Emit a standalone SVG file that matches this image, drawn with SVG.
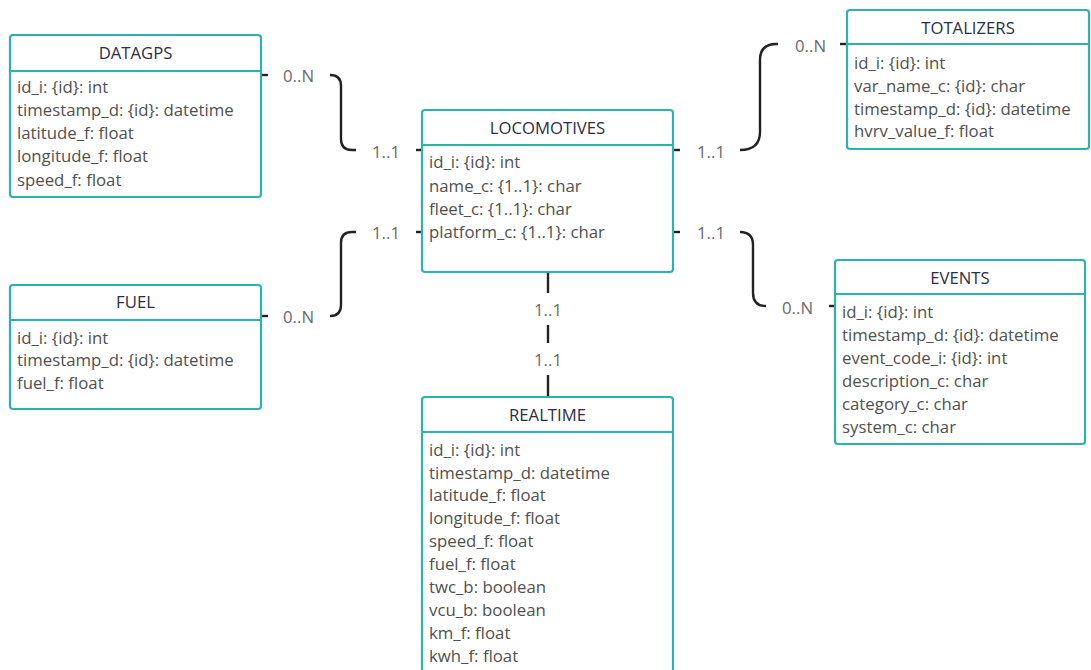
<svg xmlns="http://www.w3.org/2000/svg" width="1091" height="670" viewBox="0 0 1091 670">
<style>
.box{fill:#fff;stroke:#2bb3ad;stroke-width:2.2}
.div{stroke:#2bb3ad;stroke-width:2.2}
.title{font-family:"Open Sans","Noto Sans",sans-serif;font-size:16.7px;fill:#2b2d45;text-anchor:middle}
.f{font-family:"Open Sans","Noto Sans",sans-serif;font-size:16.8px;fill:#505050}
.lbl{font-family:"Open Sans","Noto Sans",sans-serif;font-size:16.8px;fill:#6a6a6a}
.c{fill:none;stroke:#222;stroke-width:2.4;stroke-linecap:butt}
</style>
<rect width="1091" height="670" fill="#fff"/>
<g id="connectors">
<path class="c" d="M261,75 H268"/>
<path class="c" d="M330,75 Q341,75 341,86 V139 Q341,150 352,150 H356"/>
<path class="c" d="M416,150 H422"/>
<path class="c" d="M261,316 H268"/>
<path class="c" d="M330,316 Q341,316 341,305 V243 Q341,232 352,232 H356"/>
<path class="c" d="M416,232 H422"/>
<path class="c" d="M673,150 H680"/>
<path class="c" d="M740,150 Q760,150 760,132 V60 Q760,44 776,44 H778"/>
<path class="c" d="M840,44 H847"/>
<path class="c" d="M673,232 H680"/>
<path class="c" d="M740,232 Q753,232 753,245 V293 Q753,306 766,306"/>
<path class="c" d="M829,306 H835"/>
<path class="c" d="M548,272 V293 M548,325 V343 M548,375 V397"/>
<text class="lbl" x="283" y="82">0..N</text>
<text class="lbl" x="372" y="158">1..1</text>
<text class="lbl" x="372" y="239">1..1</text>
<text class="lbl" x="283" y="323">0..N</text>
<text class="lbl" x="697" y="158">1..1</text>
<text class="lbl" x="795" y="52">0..N</text>
<text class="lbl" x="697" y="239">1..1</text>
<text class="lbl" x="782" y="314">0..N</text>
<text class="lbl" x="548" y="316" text-anchor="middle">1..1</text>
<text class="lbl" x="548" y="366" text-anchor="middle">1..1</text>
</g>
<g id="datagps">
<rect class="box" x="10" y="35" width="251" height="162" rx="3"/>
<line class="div" x1="10" y1="71" x2="261" y2="71"/>
<text class="title" x="135.5" y="59">DATAGPS</text>
<text class="f" x="17" y="93">id_i: {id}: int</text>
<text class="f" x="17" y="116">timestamp_d: {id}: datetime</text>
<text class="f" x="17" y="139">latitude_f: float</text>
<text class="f" x="17" y="162">longitude_f: float</text>
<text class="f" x="17" y="186">speed_f: float</text>
</g>
<g id="fuel">
<rect class="box" x="10" y="285" width="251" height="124" rx="3"/>
<line class="div" x1="10" y1="320" x2="261" y2="320"/>
<text class="title" x="135.5" y="308">FUEL</text>
<text class="f" x="17" y="344">id_i: {id}: int</text>
<text class="f" x="17" y="366">timestamp_d: {id}: datetime</text>
<text class="f" x="17" y="389">fuel_f: float</text>
</g>
<g id="locomotives">
<rect class="box" x="422" y="110" width="251" height="162" rx="3"/>
<line class="div" x1="422" y1="145" x2="673" y2="145"/>
<text class="title" x="547.5" y="134">LOCOMOTIVES</text>
<text class="f" x="429" y="168">id_i: {id}: int</text>
<text class="f" x="429" y="192">name_c: {1..1}: char</text>
<text class="f" x="429" y="215">fleet_c: {1..1}: char</text>
<text class="f" x="429" y="238">platform_c: {1..1}: char</text>
</g>
<g id="realtime">
<rect class="box" x="422" y="397" width="251" height="300" rx="3"/>
<line class="div" x1="422" y1="432" x2="673" y2="432"/>
<text class="title" x="547.5" y="421">REALTIME</text>
<text class="f" x="429" y="456">id_i: {id}: int</text>
<text class="f" x="429" y="479">timestamp_d: datetime</text>
<text class="f" x="429" y="501">latitude_f: float</text>
<text class="f" x="429" y="524">longitude_f: float</text>
<text class="f" x="429" y="547">speed_f: float</text>
<text class="f" x="429" y="570">fuel_f: float</text>
<text class="f" x="429" y="593">twc_b: boolean</text>
<text class="f" x="429" y="616">vcu_b: boolean</text>
<text class="f" x="429" y="639">km_f: float</text>
<text class="f" x="429" y="662">kwh_f: float</text>
</g>
<g id="totalizers">
<rect class="box" x="847" y="10" width="242" height="139" rx="3"/>
<line class="div" x1="847" y1="44" x2="1089" y2="44"/>
<text class="title" x="968" y="34">TOTALIZERS</text>
<text class="f" x="854" y="69">id_i: {id}: int</text>
<text class="f" x="854" y="92">var_name_c: {id}: char</text>
<text class="f" x="854" y="115">timestamp_d: {id}: datetime</text>
<text class="f" x="854" y="137">hvrv_value_f: float</text>
</g>
<g id="events">
<rect class="box" x="835" y="260" width="250" height="184" rx="3"/>
<line class="div" x1="835" y1="294" x2="1085" y2="294"/>
<text class="title" x="960" y="284">EVENTS</text>
<text class="f" x="842" y="318">id_i: {id}: int</text>
<text class="f" x="842" y="341">timestamp_d: {id}: datetime</text>
<text class="f" x="842" y="364">event_code_i: {id}: int</text>
<text class="f" x="842" y="387">description_c: char</text>
<text class="f" x="842" y="410">category_c: char</text>
<text class="f" x="842" y="433">system_c: char</text>
</g>
</svg>
